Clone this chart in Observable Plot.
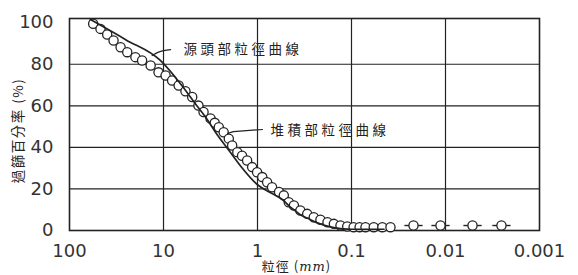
<!DOCTYPE html>
<html><head><meta charset="utf-8">
<script src="https://cdn.jsdelivr.net/npm/d3@7"></script>
<script src="https://cdn.jsdelivr.net/npm/@observablehq/plot@0.6"></script>
<style>body{margin:0;background:#fff}</style>
</head><body><div id="chart"></div>
<script>
// Grain-size distribution curves (particle size in mm, percent passing)
const sourceSize = [60, 25, 10.8, 6.6, 4.5, 3.5, 2.8, 2, 1.5, 1.0, 0.7, 0.54, 0.465, 0.41, 0.35, 0.296, 0.252, 0.214, 0.18, 0.154, 0.131, 0.1, 0.07, 0.045];
const sourcePct  = [101.5, 91.7, 81.8, 70.6, 60.5, 54, 47.3, 38.4, 30.8, 22, 17.8, 14.8, 12, 10, 7.6, 6, 4.4, 3.2, 2.1, 1.4, 0.9, 0.6, 0.5, 0.6];
const depositSize = [56, 46.8, 39.7, 34, 28.6, 24.3, 19.9, 16.9, 13.7, 11.3, 9.5, 8.1, 6.9, 5.84, 4.95, 4.25, 3.75, 3.16, 2.85, 2.58, 2.29, 2.02, 1.86, 1.64, 1.46, 1.29, 1.14, 1.01, 0.89, 0.79, 0.70, 0.59, 0.525, 0.465, 0.41, 0.35, 0.296, 0.252, 0.214, 0.18, 0.154, 0.131, 0.111, 0.095, 0.082, 0.071, 0.058, 0.047, 0.0385];
const depositPct  = [99.5, 97, 94.3, 91.4, 88.2, 85.8, 83.4, 81.8, 79.4, 76.1, 74.6, 72.2, 69.8, 67, 64.2, 60.1, 57, 53.9, 51.8, 49.7, 47.3, 44.2, 40.9, 37.7, 36, 33.7, 30.5, 28, 25.7, 23.2, 20.8, 18.5, 16.9, 13.6, 12, 9.6, 8, 6.4, 5.2, 4, 3.2, 2.4, 1.9, 1.6, 1.6, 1.6, 1.6, 1.6, 1.6];
const tailSize = [0.0219, 0.0113, 0.00516, 0.00254];
const tailPct  = [2.4, 2.4, 2.4, 2.4];
const xTicks = [100, 10, 1, 0.1, 0.01, 0.001];
const xTickLabels = ["100", "10", "1", "0.1", "0.01", "0.001"];
const yTicks = [0, 20, 40, 60, 80, 100];
const yTickLabels = ["0", "20", "40", "60", "80", "100"];
const xGrid = [10, 1, 0.1, 0.01];
const yGrid = [20, 40, 60, 80];
const labels = ["源頭部粒徑曲線", "堆積部粒徑曲線"];
const labelSize = [6.12, 0.728];
const labelPct = [87.1, 48.1];
const leader1Size = [13.2, 11.3, 8.4];
const leader1Pct = [84.2, 85.8, 87.0];
const leader2Size = [2.08, 1.8, 0.885];
const leader2Pct = [46.7, 47.6, 48.6];
const yLabel = "過篩百分率 (%)";
const xLabel = "粒徑 (mm)";

const source = sourceSize.map((s, i) => ({size: s, pct: sourcePct[i]}));
const deposit = depositSize.map((s, i) => ({size: s, pct: depositPct[i]}));
const tail = tailSize.map((s, i) => ({size: s, pct: tailPct[i]}));
const ann = labels.map((t, i) => ({t, size: labelSize[i], pct: labelPct[i]}));
const l1 = leader1Size.map((s, i) => ({size: s, pct: leader1Pct[i]}));
const l2 = leader2Size.map((s, i) => ({size: s, pct: leader2Pct[i]}));

const ink = "#222";
const chart = Plot.plot({
  width: 578, height: 275,
  marginLeft: 69, marginRight: 39, marginTop: 18, marginBottom: 45,
  style: {fontFamily: "DejaVu Sans", background: "#fff", color: "#333"},
  x: {type: "log", domain: [100, 0.001]},
  y: {domain: [0, 102]},
  marks: [
    Plot.ruleX(xGrid, {stroke: ink, strokeWidth: 1.2}),
    Plot.ruleY(yGrid, {stroke: ink, strokeWidth: 1.2}),
    Plot.frame({stroke: ink, strokeWidth: 1.6}),
    Plot.axisX({ticks: xTicks, tickFormat: d => xTickLabels[xTicks.indexOf(d)], tickSize: 0, tickPadding: 14, fontSize: 18, label: null}),
    Plot.axisY({ticks: yTicks, tickFormat: d => yTickLabels[yTicks.indexOf(d)], tickSize: 0, tickPadding: 16, fontSize: 18, label: null}),
    Plot.link(tail, {x1: d => d.size * 1.25, x2: d => d.size / 1.25, y1: "pct", y2: "pct", stroke: ink, strokeWidth: 1.4}),
    Plot.dot(deposit, {x: "size", y: "pct", r: 4.6, fill: "white", stroke: ink, strokeWidth: 1.3}),
    Plot.line(source, {x: "size", y: "pct", stroke: ink, strokeWidth: 1.7, curve: "monotone-x"}),
    Plot.dot(tail, {x: "size", y: "pct", r: 4.6, fill: "white", stroke: ink, strokeWidth: 1.3}),
    Plot.line(l1, {x: "size", y: "pct", stroke: ink, strokeWidth: 1.2, curve: "monotone-x"}),
    Plot.line(l2, {x: "size", y: "pct", stroke: ink, strokeWidth: 1.2}),
    Plot.text(ann, {x: "size", y: "pct", text: "t", textAnchor: "start", fontSize: 13.5, fontFamily: "Noto Sans CJK TC", fill: "#222"}),
    Plot.text([yLabel], {frameAnchor: "left", textAnchor: "middle", dx: -51, dy: 6, rotate: -90, fontSize: 13.5, fontFamily: "Noto Sans CJK TC", fill: "#222"}),
    Plot.text([xLabel], {frameAnchor: "bottom", dx: -8, dy: 31, lineAnchor: "top", fontSize: 13, fontFamily: "Noto Sans CJK TC", fill: "#222"})
  ]
});
document.getElementById("chart").appendChild(chart);
const texts = d3.select(chart).selectAll("text");
texts.filter(function() { return labels.includes(this.textContent); }).style("letter-spacing", "3.5px");
texts.filter(function() { return this.textContent === yLabel; }).style("letter-spacing", "1.5px");
const xl = texts.filter(function() { return this.textContent === xLabel; });
xl.style("letter-spacing", "1px");
xl.text(null);
xl.append("tspan").text("粒徑 (");
xl.append("tspan").attr("font-style", "italic").attr("font-family", "DejaVu Serif").text("mm");
xl.append("tspan").text(")");
</script>
</body></html>
